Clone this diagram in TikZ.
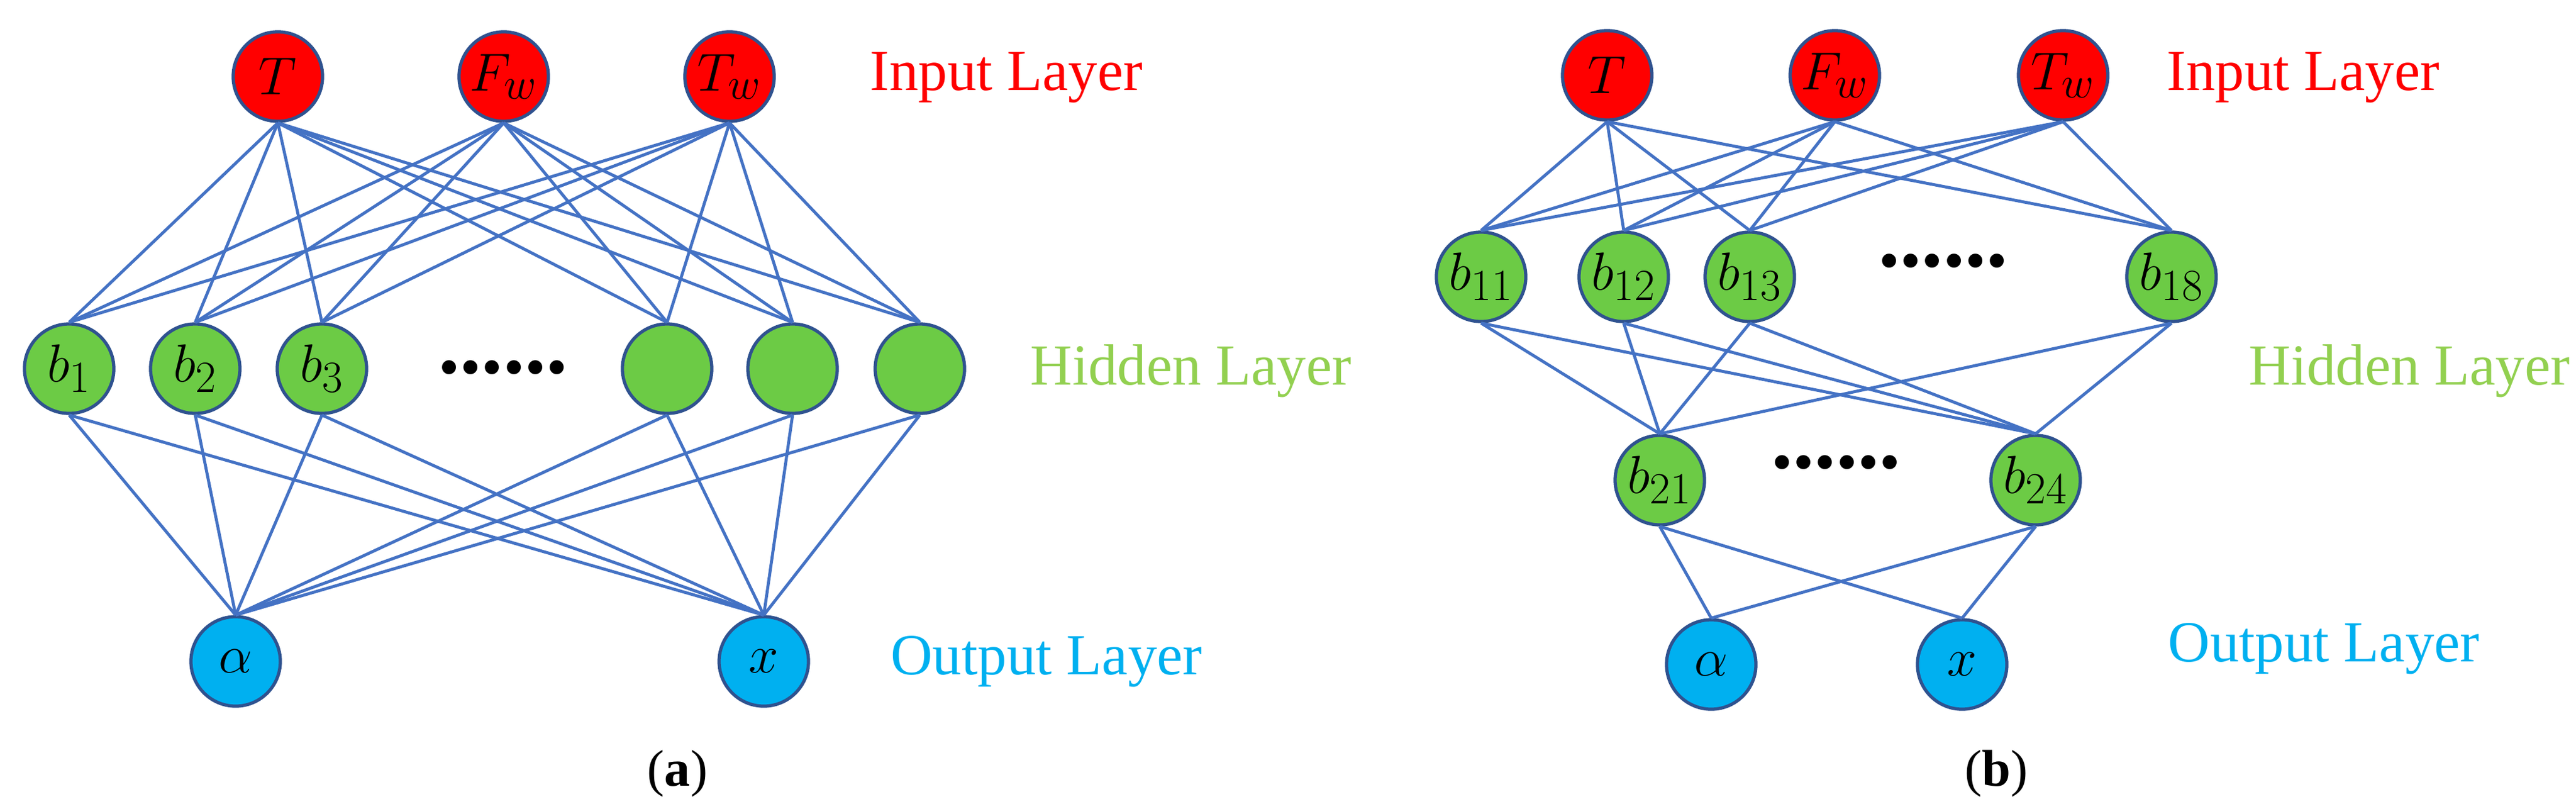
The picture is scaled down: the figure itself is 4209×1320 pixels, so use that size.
\documentclass[tikz,border=0pt]{standalone}
\usepackage{fontspec}
\setmainfont{Liberation Serif}
\definecolor{nborder}{RGB}{47,82,143}
\definecolor{hidfill}{RGB}{108,203,69}
\definecolor{outfill}{RGB}{0,176,240}
\definecolor{edgec}{RGB}{68,114,196}
\definecolor{hidtext}{RGB}{146,208,80}
\begin{document}
\begin{tikzpicture}[x=0.01cm,y=-0.01cm,
  neu/.style={circle,draw=nborder,line width=1.5pt,minimum size=1.46cm,inner sep=0pt,font=\fontsize{30}{36}\selectfont},
  inp/.style={neu,fill=red},
  hid/.style={neu,fill=hidfill},
  outn/.style={neu,fill=outfill},
  edge/.style={draw=edgec,line width=1.4pt},
  lab/.style={anchor=west,font=\fontsize{27}{32}\selectfont},
  dots/.style={font=\fontsize{40}{40}\selectfont\bfseries}]
\useasboundingbox (0,0) rectangle (4209,1320);
% ---- panel a
\node[inp] (aT) at (454,125) {$T$};
\node[inp] (aF) at (823,125) {$F_w$};
\node[inp] (aTw) at (1192,125) {$T_w$};
\node[hid] (ah1) at (113,602) {$b_1$};
\node[hid] (ah2) at (319,602) {$b_2$};
\node[hid] (ah3) at (526,602) {$b_3$};
\node[hid] (ah4) at (1090,602) {};
\node[hid] (ah5) at (1295,602) {};
\node[hid] (ah6) at (1503,602) {};
\node[outn] (aa) at (385,1080) {$\alpha$};
\node[outn] (ax) at (1248,1080) {$x$};
\node[dots] (adots) at (822,600) {......};
\foreach \i in {aT,aF,aTw}{\foreach \j in {ah1,ah2,ah3,ah4,ah5,ah6}{\draw[edge] (\i.south) -- (\j.north);}}
\foreach \i in {ah1,ah2,ah3,ah4,ah5,ah6}{\foreach \j in {aa,ax}{\draw[edge] (\i.south) -- (\j.north);}}
\node[lab,text=red] (al1) at (1409,127) {Input Layer};
\node[lab,text=hidtext] (al2) at (1671,606) {Hidden Layer};
\node[lab,text=outfill] (al3) at (1443,1080) {Output Layer};
\node[font=\fontsize{24}{28}\selectfont] (acap) at (1107,1263) {(\textbf{a})};
% ---- panel b
\node[inp] (bT) at (2626,123) {$T$};
\node[inp] (bF) at (2998,123) {$F_w$};
\node[inp] (bTw) at (3371,123) {$T_w$};
\node[hid] (b11) at (2420,452) {$b_{11}$};
\node[hid] (b12) at (2653,452) {$b_{12}$};
\node[hid] (b13) at (2859,452) {$b_{13}$};
\node[hid] (b18) at (3548,452) {$b_{18}$};
\node[hid] (b21) at (2712,784) {$b_{21}$};
\node[hid] (b24) at (3326,784) {$b_{24}$};
\node[outn] (ba) at (2796,1085) {$\alpha$};
\node[outn] (bx) at (3206,1085) {$x$};
\node[dots] (bdots1) at (3175,426) {......};
\node[dots] (bdots2) at (3000,755) {......};
\foreach \i in {bT,bF,bTw}{\foreach \j in {b11,b12,b13,b18}{\draw[edge] (\i.south) -- (\j.north);}}
\foreach \i in {b11,b12,b13,b18}{\foreach \j in {b21,b24}{\draw[edge] (\i.south) -- (\j.north);}}
\foreach \i in {b21,b24}{\foreach \j in {ba,bx}{\draw[edge] (\i.south) -- (\j.north);}}
\node[lab,text=red] (bl1) at (3528,127) {Input Layer};
\node[lab,text=hidtext] (bl2) at (3662,606) {Hidden Layer};
\node[lab,text=outfill] (bl3) at (3530,1059) {Output Layer};
\node[font=\fontsize{24}{28}\selectfont] (bcap) at (3262,1263) {(\textbf{b})};
\end{tikzpicture}
\end{document}
